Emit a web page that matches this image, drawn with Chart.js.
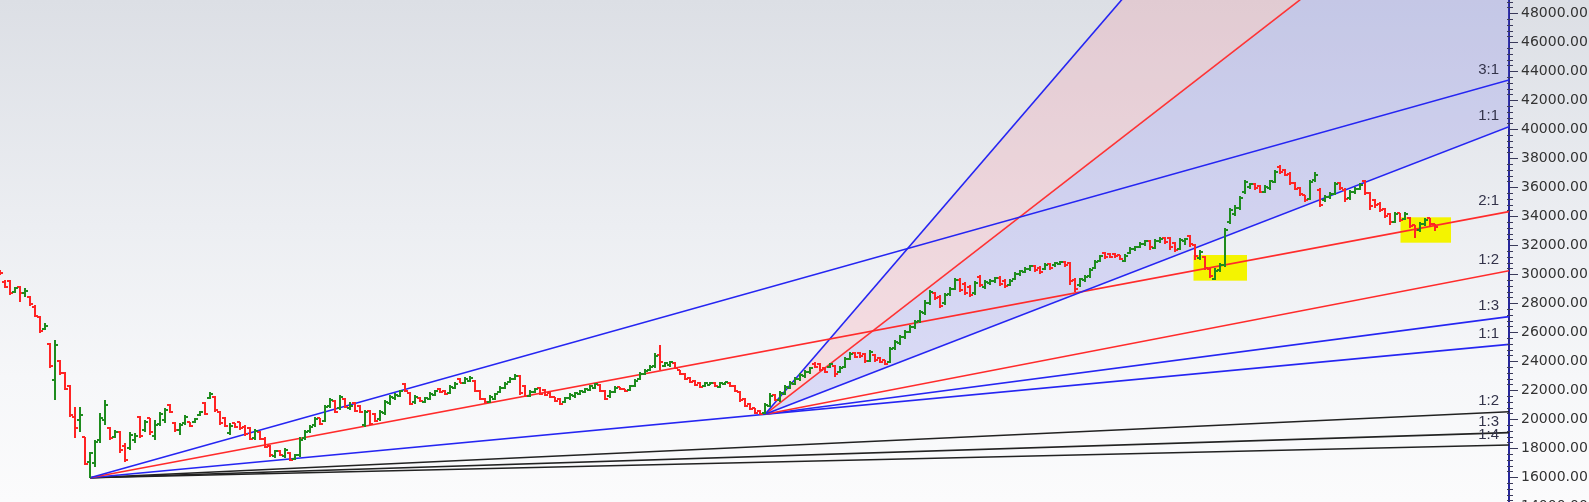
<!DOCTYPE html>
<html>
<head>
<meta charset="utf-8">
<script src="https://cdn.jsdelivr.net/npm/chart.js@4.4.1/dist/chart.umd.min.js"></script>
<style>
html, body { margin: 0; padding: 0; overflow: hidden; }
#wrap {
  width: 1589px; height: 502px; overflow: hidden; position: relative;
  background: linear-gradient(to bottom, #dcdfe5 0%, #eceef2 45%, #f6f7f9 75%, #fbfbfc 100%);
}
canvas { display: block; }
</style>
</head>
<body>
<div id="wrap"><canvas id="gann" width="1589" height="540"></canvas></div>
<script>
// daily OHLC, one entry per bar (index = bar number)
const opens = [
  30160,29470,29540,28780,29120,28710,28430,27740,27060,26230,
  25190,22710,24020,23190,22300,20160,19950,18780,17060,16990,
  18570,19950,19400,18780,19120,18160,18020,18570,20160,19260,
  20090,18850,19680,19950,20990,19740,19260,19740,19810,19810,
  20300,21120,21470,21540,20500,20090,19060,19740,19810,19470,
  19400,18710,19120,18640,18160,17470,17810,17470,17680,17260,
  17540,18710,19190,19610,20090,19880,20920,21260,20780,21400,
  20780,21120,20920,19610,20570,20370,20020,20430,21120,21470,
  21610,22430,21810,21190,21470,21190,21400,21680,22090,21950,
  21810,22160,22780,22500,22640,22640,21950,21400,21190,21400,
  21880,22160,22570,22780,22990,22300,21610,21880,22160,22020,
  21810,21540,21400,21190,21470,21610,21740,21880,22020,22160,
  22370,21950,21610,21880,22230,22090,22020,22300,22780,23120,
  23400,23680,24430,23680,23740,23880,23400,23120,22850,22640,
  22500,22300,22370,22500,22230,22430,22500,22300,21880,21400,
  21060,20780,20570,20430,20920,21680,21330,21740,22160,22430,
  22780,22990,23260,23810,23810,23540,23610,23680,23260,23610,
  24160,24570,24570,24500,24020,24430,24230,24090,23950,24920,
  25260,25680,26020,26370,26780,27330,28020,28710,28430,28020,
  28640,28990,29610,29330,29120,28710,29810,29120,29400,29540,
  29740,29540,29260,29680,30020,30160,30370,30570,30430,30370,
  30710,30640,30710,30850,30780,29610,29260,29610,29880,30430,
  30920,31470,31400,31400,31330,30920,31470,31740,31880,32090,
  32300,31810,32300,32500,32500,32160,31740,32300,32640,32020,
  31120,31190,30370,29680,30300,30640,33610,34160,34570,35680,
  36020,36230,36090,35680,35950,36370,37400,37190,36920,36300,
  35950,35470,35190,36500,35810,35120,35330,35540,36300,35810,
  35260,35680,35880,36430,35610,35120,34850,34500,34160,33610,
  34230,33810,33880,33400,33060,33470,33880,33470
];
const highs = [
  30300,29610,29610,29120,29190,29050,28500,27880,27120,26640,
  25260,25470,24090,23260,22370,20850,20850,18780,17740,18570,
  20430,21330,19470,19260,19190,18370,19120,19060,20230,19950,
  20090,19950,20500,20780,21060,19810,19740,20300,19810,20090,
  20570,21190,21880,21610,20570,20160,19740,19740,19810,19610,
  19470,19330,19190,18780,18230,17880,17880,18020,17740,17610,
  18780,19260,19610,20160,20090,20990,21470,21330,21680,21470,
  21190,21190,20990,20640,20640,20430,20640,21330,21680,21810,
  22020,22500,21880,21680,21540,21540,21880,22020,22160,22020,
  22370,22570,22850,22920,22990,22710,22020,21470,21680,21810,
  22300,22570,22920,23120,23060,22370,22020,22160,22230,22090,
  21880,21540,21470,21540,21810,21880,22020,22160,22370,22500,
  22430,22020,22020,22300,22230,22090,22370,22780,23260,23470,
  23740,24570,25120,23950,24020,23950,23400,23190,22920,22710,
  22570,22570,22570,22570,22570,22570,22570,22370,21950,21470,
  21120,20780,20640,21120,21810,21740,21950,22370,22640,22920,
  23190,23400,23610,23950,23880,23610,23880,23740,23680,24300,
  24640,24640,24640,24570,24780,24500,24300,24090,24990,25470,
  25810,26160,26500,26850,27540,28230,28920,28780,28570,28710,
  29120,29740,29740,29470,29260,29540,29950,29610,29680,29810,
  29880,29680,29680,30160,30300,30500,30640,30640,30570,30780,
  30780,30850,30920,30920,30850,29740,29740,29950,30430,30990,
  31330,31540,31470,31470,31330,31400,31880,31950,32230,32370,
  32370,32430,32570,32570,32570,32230,32500,32500,32710,32090,
  31680,31260,30430,30430,30780,33190,34570,34780,35400,36500,
  36300,36300,36160,36160,36500,37190,37540,37260,37060,36370,
  36020,35470,36500,37060,35950,35470,35680,36370,36370,35950,
  35810,36020,36300,36500,35680,35190,34990,34570,34230,34300,
  34230,34300,33950,33400,33610,33880,33880,33470
];
const lows = [
  29950,29050,28570,28710,28090,28430,27810,27060,25950,26160,
  23540,21330,23060,22020,20160,18710,19120,16850,15950,16710,
  18370,19610,18570,18710,17680,17060,17880,18370,18710,19120,
  18920,18570,19540,19740,20430,19120,18920,19610,19470,19740,
  20230,20300,21400,20500,19610,19470,18920,19400,19260,18850,
  18570,18570,18570,18020,17400,17330,17470,17330,17120,17190,
  17400,18570,19060,19470,19610,19810,20780,20430,20640,20780,
  20640,20500,20430,19470,19610,19810,19880,20300,20990,21330,
  21540,21880,20990,21060,21190,21120,21330,21610,21810,21680,
  21740,22090,22500,22430,22570,21880,21330,21120,21120,21330,
  21810,22090,22500,22710,21680,21540,21540,21810,21680,21610,
  21470,21190,20990,21120,21330,21470,21680,21810,21950,22090,
  21880,21330,21470,21810,22020,21880,21950,22230,22710,23060,
  23330,23540,23400,23610,23610,23470,23060,22710,22500,22300,
  22160,22230,22370,22230,22160,22370,22230,21880,21190,20850,
  20640,20370,20300,20350,20850,21260,21190,21680,22090,22370,
  22640,22850,23120,23540,23330,23190,23540,22920,23190,23540,
  24090,24230,24230,23880,23950,23950,23880,23740,23880,24780,
  25120,25540,25950,26230,26640,27190,27880,28230,27680,27880,
  28500,28920,28780,28570,28430,28570,29120,28990,29260,29400,
  29190,29050,29190,29610,29880,30090,30230,30160,30020,30300,
  30300,30500,30640,30500,29260,28780,29120,29470,29740,30370,
  30850,31060,31120,31120,30990,30850,31400,31610,31810,31950,
  31680,31740,32160,32090,31680,31540,31680,32020,31880,30990,
  30990,30300,29740,29610,30160,30500,33470,34020,34430,35540,
  35880,35810,35610,35610,35810,36300,36920,36780,36160,35810,
  35400,34990,35120,36370,34640,34990,35190,35470,35810,34990,
  35120,35540,35810,35470,34430,34570,34300,33880,33400,33540,
  33610,33740,33190,32500,32920,33330,33260,32990
];
const closes = [
  30090,29120,28710,29050,28710,28850,27950,27120,26090,26430,
  23680,25120,23190,22090,20300,19400,20300,16920,17680,18430,
  20090,20990,18710,19120,17880,17190,18920,18850,18850,19810,
  19120,19610,20370,20640,20500,19260,19610,20160,19540,20020,
  20500,20370,21740,20640,19740,19540,19540,19470,19400,18990,
  18640,19190,18640,18090,17540,17810,17540,17880,17190,17540,
  18570,19120,19470,20020,19680,20850,21330,20500,21540,20850,
  20920,20570,20500,20500,19680,19880,20500,21190,21540,21680,
  21950,21950,21060,21540,21260,21470,21740,21950,21880,21740,
  22230,22430,22500,22780,22850,21950,21400,21190,21540,21740,
  22160,22430,22780,22990,21810,21610,21880,22090,21740,21680,
  21540,21260,21060,21470,21680,21810,21950,22090,22300,22430,
  21950,21400,21880,22160,22090,21950,22300,22640,23120,23330,
  23610,24370,23950,23880,23950,23540,23120,22780,22570,22370,
  22230,22500,22500,22300,22500,22570,22300,21950,21330,20920,
  20710,20430,20370,20990,21610,21330,21810,22230,22500,22780,
  23060,23260,23540,23610,23400,23260,23810,23120,23540,24160,
  24500,24300,24370,24020,24640,24090,23950,23810,24850,25330,
  25680,26020,26370,26710,27400,28020,28780,28370,27810,28570,
  28990,29610,28920,28710,28570,29400,29260,29470,29540,29740,
  29330,29190,29540,30020,30230,30370,30570,30300,30160,30640,
  30430,30780,30850,30640,29540,28990,29680,29810,30300,30850,
  31260,31190,31190,31260,31060,31260,31740,31880,32090,32300,
  31880,32300,32430,32230,31880,31680,32370,32430,32090,31260,
  31540,30430,29880,30230,30640,33060,34430,34570,35260,36370,
  36230,35950,35680,36020,36430,37060,37060,36850,36300,35880,
  35540,35120,36370,36850,34780,35330,35540,36230,35950,35190,
  35680,35880,36160,35610,34710,34780,34430,34020,33610,34160,
  33740,34160,33330,33060,33470,33740,33470,33260
];

// Gann fan lines: start bar / value, value where each line meets the right edge
const fanLabels   = ['3:1', '1:1', '2:1', '1:2', '1:3', '1:1', '1:2', '1:3', '1:4'];
const fanStartBar = [18, 153, 18, 153, 153, 18, 18, 18, 18];
const fanStartVal = [15970, 20345, 15970, 20345, 20345, 15970, 15970, 15970, 15970];
const fanEndVal   = [43400, 40180, 34320, 30250, 27080, 25170, 20520, 19080, 18230];
const fanColors   = ['#2525f2', '#2525f2', '#ff2b2b', '#ff2b2b', '#2525f2', '#2525f2', '#222', '#222', '#222'];

// steep unlabeled lines from the second pivot (bounding the shaded zones)
const steepEndVal = [79970, 60100];

// highlighted zones [fromBar, toBar, low, high]
const zoneFrom = [238.7, 280.1];
const zoneTo   = [249.4, 290.2];
const zoneLow  = [29560, 32180];
const zoneHigh = [31330, 33930];

const yTicks = [12000,14000,16000,18000,20000,22000,24000,26000,28000,30000,32000,
                34000,36000,38000,40000,42000,44000,46000,48000];

const lastBar = 301.8;

function barPoints(up) {
  const pts = [];
  for (let i = 0; i < opens.length; i++) {
    if ((closes[i] >= opens[i]) !== up) continue;
    pts.push({x: i, y: highs[i]}, {x: i, y: lows[i]}, {x: i, y: null},
             {x: i - 0.6, y: opens[i]}, {x: i, y: opens[i]}, {x: i, y: null},
             {x: i, y: closes[i]}, {x: i + 0.6, y: closes[i]}, {x: i, y: null});
  }
  return pts;
}

const barStyle = {type: 'line', borderWidth: 2, pointRadius: 0, spanGaps: false, fill: false, order: 0};

const datasets = [
  Object.assign({data: barPoints(true), borderColor: '#1e8c1e'}, barStyle),
  Object.assign({data: barPoints(false), borderColor: '#ff2424'}, barStyle)
];

fanLabels.forEach((lab, k) => {
  datasets.push({
    type: 'line', label: lab,
    data: [{x: fanStartBar[k], y: fanStartVal[k]}, {x: lastBar, y: fanEndVal[k]}],
    borderColor: fanColors[k], borderWidth: 1.6, pointRadius: 0, fill: false, order: 1
  });
});

// index 11: steep blue (pink zone to the red one), index 12: steep red (lavender zone to 1:1)
datasets.push({
  type: 'line',
  data: [{x: 153, y: 20345}, {x: lastBar, y: steepEndVal[0]}],
  borderColor: '#2525f2', borderWidth: 1.6, pointRadius: 0,
  fill: 12, backgroundColor: 'rgba(245,130,145,0.22)', order: 2
});
datasets.push({
  type: 'line',
  data: [{x: 153, y: 20345}, {x: lastBar, y: steepEndVal[1]}],
  borderColor: '#ff2b2b', borderWidth: 1.6, pointRadius: 0,
  fill: 3, backgroundColor: 'rgba(105,105,235,0.2)', order: 2
});

const zonePlugin = {
  id: 'zones',
  beforeDatasetsDraw(chart) {
    const {ctx, scales: {x, y}} = chart;
    ctx.save();
    ctx.fillStyle = '#f4f400';
    for (let k = 0; k < zoneFrom.length; k++) {
      const x0 = x.getPixelForValue(zoneFrom[k]), x1 = x.getPixelForValue(zoneTo[k]);
      const y0 = y.getPixelForValue(zoneHigh[k]), y1 = y.getPixelForValue(zoneLow[k]);
      ctx.fillRect(x0, y0, x1 - x0, y1 - y0);
    }
    ctx.restore();
  }
};

const labelPlugin = {
  id: 'fanLabels',
  afterDatasetsDraw(chart) {
    const {ctx, chartArea, scales: {y}} = chart;
    ctx.save();
    ctx.font = '15px "Liberation Sans", Arial, sans-serif';
    ctx.fillStyle = '#33334a';
    ctx.textAlign = 'right';
    ctx.textBaseline = 'middle';
    fanLabels.forEach((lab, k) => {
      ctx.fillText(lab, chartArea.right - 10, y.getPixelForValue(fanEndVal[k]) - 10.5);
    });
    ctx.restore();
  },
  afterDraw(chart) {
    // minor ticks on the price axis
    const {ctx, chartArea, scales: {y}} = chart;
    ctx.save();
    ctx.strokeStyle = '#3a3a5a';
    ctx.lineWidth = 1;
    ctx.beginPath();
    for (let v = 12000; v <= 48800; v += 400) {
      if (v % 2000 === 0) continue;
      const py = Math.round(y.getPixelForValue(v)) + 0.5;
      ctx.moveTo(chartArea.right - 2, py);
      ctx.lineTo(chartArea.right + 4, py);
    }
    ctx.stroke();
    ctx.restore();
  }
};

new Chart(document.getElementById('gann'), {
  type: 'line',
  data: {datasets: datasets},
  plugins: [zonePlugin, labelPlugin],
  options: {
    responsive: false,
    animation: false,
    devicePixelRatio: 1,
    layout: {padding: 0},
    plugins: {legend: {display: false}, tooltip: {enabled: false}},
    scales: {
      x: {type: 'linear', min: 0, max: lastBar, display: false},
      y: {
        position: 'right',
        min: 11675,
        max: 48917,
        afterBuildTicks: s => { s.ticks = yTicks.map(v => ({value: v})); },
        afterFit: s => { s.width = 80; s.paddingTop = 0; s.paddingBottom = 0; },
        border: {display: true, color: '#26269a', width: 2},
        grid: {drawOnChartArea: false, drawTicks: true, tickLength: 9, color: '#3a3a5a'},
        ticks: {
          color: '#333',
          font: {family: '"DejaVu Sans"', size: 14},
          padding: 3,
          autoSkip: false,
          maxRotation: 0,
          callback: v => Number(v).toFixed(2)
        }
      }
    }
  }
});
</script>
</body>
</html>
